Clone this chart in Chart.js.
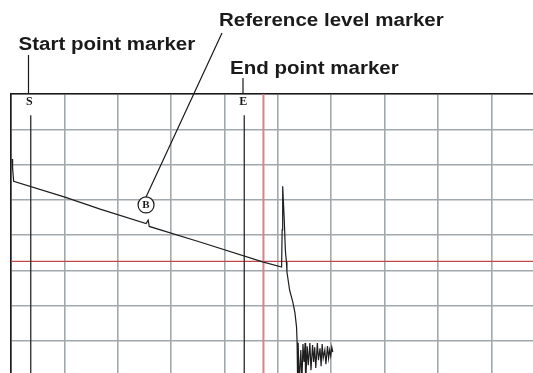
<!DOCTYPE html>
<html>
<head>
<meta charset="utf-8">
<script src="https://cdn.jsdelivr.net/npm/chart.js@4"></script>
<style>
  html, body { margin: 0; padding: 0; background: #fff; overflow: hidden; }
  canvas { display: block; }
</style>
</head>
<body>
<canvas id="otdr" width="533" height="373"></canvas>
<script>
// distance in divisions, level in divisions (0 = top of screen)
const traceX = [0.02, 0.03, 0.05, 1.01, 1.67, 2.53, 2.57, 2.59, 3.54, 4.73, 5.07, 5.08, 5.09, 5.12, 5.14, 5.16, 5.17, 5.22, 5.28, 5.32, 5.35, 5.36];
const traceY = [-1.84, -2.10, -2.47, -2.92, -3.26, -3.67, -3.57, -3.75, -4.19, -4.76, -4.90, -3.85, -2.61, -3.57, -4.42, -4.76, -5.04, -5.55, -5.89, -6.20, -6.60, -7.03];
// noise floor after the fibre end
const noiseX = [5.37, 5.38, 5.40, 5.43, 5.45, 5.47, 5.49, 5.51, 5.52, 5.55, 5.57, 5.60, 5.62, 5.65, 5.67, 5.69, 5.71, 5.74, 5.76, 5.79, 5.81, 5.83, 5.85, 5.88, 5.90, 5.93, 5.95, 5.97, 5.99, 6.01, 6.03];
const noiseY = [-8.2, -7.05, -8.2, -7.25, -8.2, -7.08, -7.59, -7.05, -8.2, -7.14, -7.68, -7.05, -7.82, -7.11, -7.59, -7.17, -7.76, -7.05, -7.54, -7.20, -7.71, -7.08, -7.48, -7.25, -7.65, -7.14, -7.48, -7.25, -7.42, -7.17, -7.31];

const startPos = 0.37;
const endPos = 4.37;
const markerTop = -0.6;
const cursorX = 4.73;
const cursorLevel = -4.74;
const refX = 2.53;
const refY = -3.14;

const xMax = 9.78;
const yMin = -7.9;

const pts = (xs, ys) => xs.map((x, i) => ({ x: x, y: ys[i] }));

// labels, leader lines, letters on the markers
const notes = {
  id: 'notes',
  afterDraw(chart) {
    const c = chart.ctx;
    const xs = chart.scales.x, ys = chart.scales.y;
    const top = chart.chartArea.top;

    c.save();
    c.fillStyle = '#1a1a1a';
    c.textBaseline = 'middle';
    c.textAlign = 'center';
    c.font = 'bold 12px "Liberation Serif"';
    c.fillText('S', xs.getPixelForValue(startPos) - 1.5, top + 8);
    c.fillText('E', xs.getPixelForValue(endPos) - 1, top + 8);
    c.font = 'bold 11px "Liberation Serif"';
    c.fillText('B', xs.getPixelForValue(refX), ys.getPixelForValue(refY) + 0.5);

    c.strokeStyle = '#1a1a1a';
    c.lineWidth = 1.2;
    c.beginPath();
    c.moveTo(28.5, 55); c.lineTo(28.5, top);
    c.moveTo(243, 78); c.lineTo(243, top);
    c.moveTo(222, 33); c.lineTo(xs.getPixelForValue(refX), ys.getPixelForValue(refY) - 8);
    c.stroke();

    c.textAlign = 'left';
    c.textBaseline = 'alphabetic';
    c.font = 'bold 18px "Liberation Sans", Arial, sans-serif';
    const put = (t, x, y) => {
      c.save();
      c.translate(x, y);
      c.scale(1.14, 1);
      c.fillText(t, 0, 0);
      c.restore();
    };
    put('Reference level marker', 219, 26);
    put('Start point marker', 18.5, 50);
    put('End point marker', 230, 74);
    c.restore();
  }
};

new Chart(document.getElementById('otdr').getContext('2d'), {
  type: 'line',
  data: {
    datasets: [{
      label: 'Reference level marker',
      type: 'scatter',
      data: [{ x: refX, y: refY }],
      pointRadius: 8,
      pointBackgroundColor: '#fff',
      pointBorderColor: '#1a1a1a',
      pointBorderWidth: 1.2
    }, {
      label: 'Trace',
      data: pts(traceX, traceY).concat(pts(noiseX, noiseY)),
      borderColor: '#1e1e1e',
      borderWidth: 1.2,
      pointRadius: 0
    }, {
      label: 'Start',
      data: [{ x: startPos, y: markerTop }, { x: startPos, y: -9 }],
      borderColor: '#2a2a2a',
      borderWidth: 1.3,
      pointRadius: 0
    }, {
      label: 'End',
      data: [{ x: endPos, y: markerTop }, { x: endPos, y: -9 }],
      borderColor: '#2a2a2a',
      borderWidth: 1.3,
      pointRadius: 0
    }, {
      label: 'Cursor X',
      data: [{ x: cursorX, y: 0 }, { x: cursorX, y: -9 }],
      borderColor: '#d68386',
      borderWidth: 2,
      pointRadius: 0
    }, {
      label: 'Cursor level',
      data: [{ x: 0, y: cursorLevel }, { x: xMax, y: cursorLevel }],
      borderColor: '#c0474a',
      borderWidth: 1.2,
      pointRadius: 0
    }]
  },
  options: {
    responsive: false,
    animation: false,
    layout: { autoPadding: false, padding: { left: 11, top: 94, right: 0, bottom: 0 } },
    plugins: { legend: { display: false }, tooltip: { enabled: false } },
    elements: { line: { tension: 0 } },
    scales: {
      x: {
        type: 'linear',
        position: 'top',
        min: 0,
        max: xMax,
        ticks: { display: false, stepSize: 1, includeBounds: false },
        grid: { color: '#a2a9ae', lineWidth: 1.6, drawTicks: false },
        border: { display: true, color: '#1a1a1a', width: 1.6 }
      },
      y: {
        min: yMin,
        max: 0,
        ticks: { display: false, stepSize: 1, includeBounds: false },
        grid: { color: '#a2a9ae', lineWidth: 1.6, drawTicks: false },
        border: { display: true, color: '#1a1a1a', width: 1.6 }
      }
    }
  },
  plugins: [notes]
});
</script>
</body>
</html>
